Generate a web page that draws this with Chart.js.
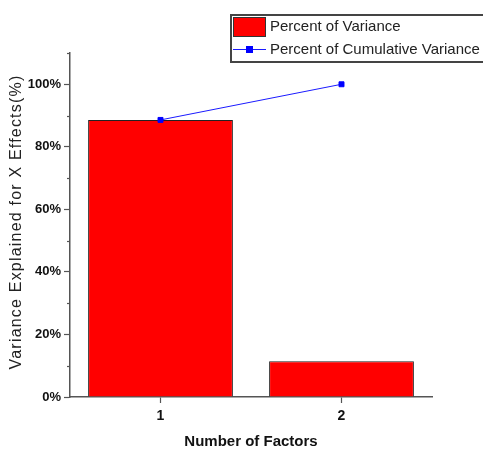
<!DOCTYPE html>
<html>
<head>
<meta charset="utf-8">
<script src="https://cdn.jsdelivr.net/npm/chart.js@4"></script>
<style>
  html, body { margin: 0; padding: 0; background: #fff; }
  #wrap { width: 483px; height: 449px; }
</style>
</head>
<body>
<div id="wrap"><canvas id="chart" width="483" height="449"></canvas></div>
<script>
const factors = ['1', '2']
const percentVariance = [88.6, 11.4]
const cumulativeVariance = [88.6, 100]
const yTicks = [0, 20, 40, 60, 80, 100]
const yTitle = 'Variance Explained for X Effects(%)'

const BOLD = "'Liberation Sans Narrow', 'Liberation Sans', Arial, sans-serif"
const PLAIN = "'Liberation Sans', Arial, sans-serif"
const AXIS = '#555'

// legend box, y title and minor ticks drawn by hand, like the Origin export
const originLook = {
    id: 'originLook',
    afterDraw(chart) {
        const ctx = chart.ctx
        const y = chart.scales.y
        const area = chart.chartArea
        ctx.save()
        ctx.strokeStyle = AXIS
        ctx.lineWidth = 1.2
        for (let v = 10; v <= 110; v += 20) {
            const py = Math.round(y.getPixelForValue(v)) + 0.5
            ctx.beginPath()
            ctx.moveTo(y.right - 3, py)
            ctx.lineTo(y.right, py)
            ctx.stroke()
        }

        // rotated y title, slightly spaced out
        ctx.save()
        ctx.translate(17, (area.top + area.bottom) / 2 - 3)
        ctx.rotate(-Math.PI / 2)
        ctx.font = '16px ' + PLAIN
        ctx.letterSpacing = '1.2px'
        ctx.fillStyle = '#222'
        ctx.textAlign = 'center'
        ctx.textBaseline = 'middle'
        ctx.fillText(yTitle, 0, 0)
        ctx.restore()

        // legend
        const bar = chart.data.datasets.find(d => d.type === 'bar')
        const line = chart.data.datasets.find(d => d.type === 'line')
        ctx.fillStyle = '#fff'
        ctx.fillRect(231, 15, 260, 47)
        ctx.lineWidth = 2
        ctx.strokeStyle = '#444'
        ctx.strokeRect(231, 15, 260, 47)

        ctx.fillStyle = bar.backgroundColor
        ctx.fillRect(233, 17, 33, 20)
        ctx.lineWidth = 1
        ctx.strokeStyle = '#333'
        ctx.strokeRect(233.5, 17.5, 32, 19)

        ctx.strokeStyle = line.borderColor
        ctx.beginPath()
        ctx.moveTo(233, 49.5)
        ctx.lineTo(266, 49.5)
        ctx.stroke()
        ctx.fillStyle = line.pointBackgroundColor
        ctx.fillRect(246, 46, 7, 7)

        ctx.fillStyle = '#222'
        ctx.font = '15px ' + PLAIN
        ctx.textBaseline = 'middle'
        ctx.textAlign = 'left'
        ctx.fillText(bar.label, 270, 27)
        ctx.fillText(line.label, 270, 50)
        ctx.restore()
    }
}

new Chart(document.getElementById('chart'), {
    data: {
        labels: factors,
        datasets: [
            {
                type: 'line',
                label: 'Percent of Cumulative Variance',
                data: cumulativeVariance,
                borderColor: '#1a1aff',
                borderWidth: 1,
                pointStyle: 'rect',
                pointRadius: 3.5,
                pointBackgroundColor: '#0000ff',
                pointBorderColor: '#0000ff',
                order: 0
            },
            {
                type: 'bar',
                label: 'Percent of Variance',
                data: percentVariance,
                backgroundColor: '#ff0000',
                borderColor: '#222',
                borderWidth: 1,
                categoryPercentage: 1,
                barPercentage: 0.8,
                order: 1
            }
        ]
    },
    options: {
        responsive: false,
        animation: false,
        layout: { padding: { top: 53, right: 51, left: 0, bottom: 0 } },
        plugins: {
            legend: { display: false },
            tooltip: { enabled: false }
        },
        scales: {
            x: {
                type: 'category',
                offset: true,
                afterFit: s => { s.height = 52 },
                border: { color: AXIS, width: 1.5 },
                grid: { display: true, drawOnChartArea: false, offset: false, tickLength: 6, tickColor: AXIS, tickWidth: 1.2 },
                ticks: { color: '#111', padding: 5, font: { family: BOLD, size: 14, weight: 'bold' } },
                title: {
                    display: true,
                    text: 'Number of Factors',
                    color: '#111',
                    padding: { top: 0, bottom: 0 },
                    font: { family: BOLD, size: 15, weight: 'bold', lineHeight: 1 }
                }
            },
            y: {
                min: 0,
                max: 110,
                afterFit: s => { s.width = 70 },
                afterBuildTicks: s => { s.ticks = yTicks.map(v => ({ value: v })) },
                border: { color: AXIS, width: 1.5 },
                grid: { display: true, drawOnChartArea: false, tickLength: 6, tickColor: AXIS, tickWidth: 1.2 },
                ticks: {
                    color: '#111',
                    padding: 3,
                    font: { family: BOLD, size: 13, weight: 'bold' },
                    callback: v => v + '%'
                }
            }
        }
    },
    plugins: [originLook]
})
</script>
</body>
</html>
